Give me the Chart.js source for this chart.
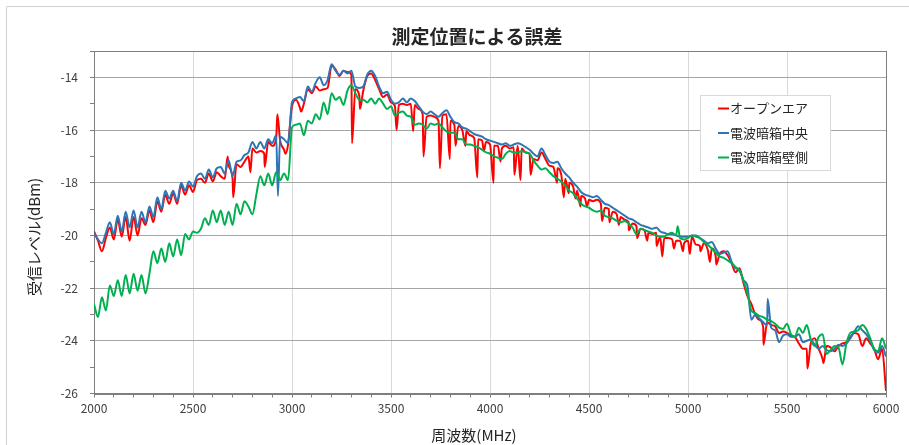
<!DOCTYPE html>
<html lang="ja">
<head>
<meta charset="utf-8">
<title>測定位置による誤差</title>
<script src="https://cdn.jsdelivr.net/npm/chart.js@4.4.1/dist/chart.umd.min.js"></script>
<style>
  html, body { margin: 0; padding: 0; background: #fff; }
  #wrap { width: 909px; height: 445px; position: relative; }
</style>
</head>
<body>
<div id="wrap"><canvas id="chart" width="909" height="445"></canvas></div>
<script>
// 周波数 2000〜6000 MHz, 20 MHz 刻み
const freqStart = 2000;
const freqStep = 20;

const seriesLabels = ["オープンエア", "電波暗箱中央", "電波暗箱壁側"];
const seriesColors = ["#ff0000", "#2e75b6", "#00b050"];

// オープンエア
const openAir = [
  -19.85, -20.2, -20.6, -20.1, -19.7, -20.15, -19.4, -20.05, -19.3, -20.2,
  -19.3, -20.0, -19.35, -19.6, -19.05, -19.5, -18.7, -19.1, -18.45, -18.8,
  -18.4, -18.8, -18.1, -18.45, -18.1, -18.35, -17.9, -17.85, -18.0, -17.65,
  -17.95, -17.6, -17.75, -17.85, -17.35, -17.85, -17.3, -17.4, -17.2, -17.0,
  -16.7, -16.85, -16.8, -16.9, -16.45, -16.6, -16.35, -16.4, -16.75, -16.55,
  -15.1, -14.85, -15.15, -15.0, -14.45, -14.6, -14.35, -14.5, -14.45, -14.4,
  -13.55, -13.7, -13.95, -13.75, -13.8, -13.9, -14.45, -14.7, -14.5, -13.95,
  -13.85, -14.1, -14.45, -14.75, -14.65, -14.95, -15.1, -15.05, -15.0, -15.05,
  -15.0, -15.05, -15.2, -15.4, -15.5, -15.45, -15.5, -15.65, -15.45, -15.4,
  -15.65, -15.8, -15.85, -16.0, -16.05, -16.2, -16.3, -16.35, -16.4, -16.45,
  -16.55, -16.6, -16.6, -16.7, -16.6, -16.7, -16.65, -16.6, -16.7, -16.85,
  -16.9, -17.1, -17.15, -16.85, -17.1, -17.35, -17.4, -17.45, -17.7, -17.85,
  -18.0, -18.15, -18.3, -18.5, -18.6, -18.65, -18.7, -18.65, -18.8, -18.95,
  -19.0, -19.1, -19.2, -19.3, -19.4, -19.5, -19.55, -19.65, -19.75, -19.8,
  -19.9, -19.95, -19.9, -20.05, -20.1, -20.1, -20.15, -20.2, -20.2, -20.3,
  -20.2, -20.05, -20.35, -20.4, -20.3, -20.55, -20.5, -20.8, -20.7, -20.6,
  -20.75, -21.05, -21.4, -21.25, -21.8, -22.3, -22.6, -23.0, -23.2, -23.5,
  -23.3, -23.4, -23.45, -23.7, -23.65, -23.7, -23.8, -23.85, -24.1, -24.3,
  -24.3, -24.1, -23.9, -24.3, -24.7, -24.2, -24.25, -24.4, -24.2, -24.1,
  -24.05, -23.85, -23.7, -23.75, -24.2, -23.9, -24.1, -24.3, -24.7, -24.3,
  -25.9
];

// 電波暗箱中央
const boxCenter = [
  -19.9, -20.15, -20.3, -19.9, -19.5, -19.95, -19.25, -19.85, -19.1, -19.7,
  -19.05, -19.7, -19.1, -19.5, -18.9, -19.3, -18.55, -19.0, -18.3, -18.6,
  -18.3, -18.7, -18.0, -18.3, -17.95, -18.15, -17.75, -17.65, -17.85, -17.5,
  -17.8, -17.45, -17.4, -17.65, -17.15, -17.75, -17.2, -17.15, -16.95, -16.85,
  -16.45, -16.7, -16.45, -16.7, -16.35, -16.5, -16.2, -16.25, -16.35, -16.5,
  -14.95, -14.8, -14.75, -14.9, -14.35, -14.55, -14.2, -14.0, -14.3, -14.1,
  -13.5, -13.75, -13.9, -13.75, -13.85, -13.75, -14.35, -14.4, -14.35, -13.9,
  -13.75, -13.95, -14.35, -14.6, -14.55, -14.85, -15.0, -14.95, -14.8, -14.95,
  -14.8, -14.9, -15.1, -15.3, -15.4, -15.3, -15.4, -15.5, -15.35, -15.25,
  -15.5, -15.7, -15.75, -15.9, -15.95, -16.05, -16.15, -16.2, -16.25, -16.35,
  -16.4, -16.45, -16.5, -16.55, -16.5, -16.6, -16.55, -16.5, -16.55, -16.65,
  -16.75, -16.9, -17.0, -16.7, -16.95, -17.2, -17.25, -17.2, -17.45, -17.65,
  -17.8, -18.0, -18.15, -18.35, -18.45, -18.5, -18.55, -18.5, -18.65, -18.8,
  -18.85, -18.95, -19.05, -19.15, -19.25, -19.35, -19.4, -19.5, -19.6, -19.65,
  -19.7, -19.75, -19.7, -19.85, -19.9, -19.95, -19.95, -20.0, -20.05, -20.05,
  -20.05, -20.0, -20.0, -20.1, -20.2, -20.3, -20.25, -20.5, -20.7, -20.65,
  -20.6, -21.0, -21.25, -21.3, -21.7, -21.9, -23.2, -23.0, -23.15, -23.3,
  -23.4, -23.5, -23.6, -24.05, -23.8, -23.75, -23.85, -23.85, -23.75, -24.05,
  -24.0, -23.95, -24.15, -24.3, -24.2, -24.35, -24.4, -24.3, -24.15, -24.2,
  -24.1, -23.9, -23.65, -23.45, -23.6, -23.75, -24.0, -24.35, -24.45, -24.2,
  -24.6
];

// 電波暗箱壁側
const boxWall = [
  -22.6, -23.1, -22.35, -22.85, -21.9, -22.3, -21.7, -22.3, -21.5, -22.2,
  -21.45, -22.1, -21.5, -22.2, -21.45, -20.6, -21.05, -20.5, -21.0, -20.3,
  -20.8, -20.15, -20.75, -19.95, -20.15, -19.85, -19.9, -19.75, -19.35, -19.6,
  -19.05, -19.5, -19.05, -19.6, -19.1, -19.6, -18.8, -19.2, -18.7, -18.9,
  -19.2, -18.45, -17.75, -18.1, -17.65, -18.1, -17.6, -17.9, -17.65, -17.9,
  -15.9, -15.8, -15.75, -16.2, -15.65, -15.75, -15.4, -15.6, -14.95, -15.4,
  -14.6, -14.85, -14.75, -15.05, -14.5, -14.3, -14.6, -14.85, -14.85, -14.95,
  -14.8, -15.0, -14.8, -15.0, -15.2, -15.1, -15.45, -15.35, -15.3, -15.45,
  -15.5, -15.8, -15.75, -15.8, -15.95, -15.75, -15.8, -15.75, -15.9, -16.05,
  -16.1, -16.1, -16.35, -16.35, -16.55, -16.55, -16.6, -16.65, -16.75, -16.85,
  -16.9, -17.0, -17.05, -17.1, -16.9, -16.8, -16.85, -16.85, -16.8, -16.85,
  -16.9, -17.15, -17.35, -17.5, -17.45, -17.6, -17.75, -17.85, -17.95, -18.1,
  -18.3, -18.4, -18.6, -18.8, -18.9, -18.95, -19.05, -19.1, -19.05, -19.25,
  -19.3, -19.35, -19.45, -19.5, -19.45, -19.55, -19.7, -19.95, -19.75, -19.8,
  -19.85, -19.9, -20.0, -20.05, -20.05, -19.95, -19.9, -20.0, -20.1, -20.15,
  -20.1, -20.0, -20.05, -20.1, -20.25, -20.35, -20.5, -20.65, -20.8, -20.85,
  -20.95, -21.05, -21.2, -21.35, -21.7, -22.2, -22.85, -22.95, -23.05, -23.1,
  -23.2, -23.25, -23.35, -23.5, -23.55, -23.35, -23.75, -23.85, -23.5, -23.7,
  -23.4, -23.95, -24.2, -23.85, -23.75, -24.5, -24.35, -24.2, -24.25, -24.9,
  -24.1, -23.7, -23.65, -23.6, -23.4, -23.55, -23.9, -24.3, -24.4, -23.9,
  -24.3
];

// 単発のスパイク [周波数, レベル]
const openAirSpikes = [
  [2675, -17.0], [2703, -18.55], [2790, -17.6], [2862, -17.4], [2926, -15.4],
  [2967, -16.9], [3046, -15.3], [3303, -16.5], [3343, -15.2], [3528, -16.0],
  [3612, -16.05], [3664, -17.0], [3747, -17.45], [3797, -17.1], [3826, -16.6],
  [3876, -16.6], [3936, -17.8], [3969, -16.8], [4018, -18.0], [4053, -17.2],
  [4123, -17.7], [4154, -17.9], [4205, -17.7], [4339, -18.0], [4373, -18.55],
  [4398, -18.4], [4432, -18.6], [4457, -18.9], [4490, -18.9], [4566, -19.45],
  [4603, -19.5], [4651, -19.6], [4701, -19.8], [4743, -20.1], [4794, -20.2],
  [4841, -20.4], [4870, -20.8], [4929, -20.5], [4975, -20.6], [5009, -20.7],
  [5063, -20.6], [5111, -21.0], [5143, -21.1], [5381, -24.15], [5603, -25.05],
  [5684, -24.85]
];
const boxCenterSpikes = [[2929, -18.5], [5402, -22.4]];
const boxWallSpikes = [[4948, -19.65]];

// x軸: 500 MHz ごとにラベル, y軸: 2 dB ごとにラベル
const xTickLabels = ["2000", "2500", "3000", "3500", "4000", "4500", "5000", "5500", "6000"];
const yTickLabels = ["-14", "-16", "-18", "-20", "-22", "-24", "-26"];

function toPoints(values, spikes) {
  const pts = values.map((v, i) => ({ x: freqStart + i * freqStep, y: v }));
  spikes.forEach(([f, v]) => pts.push({ x: f, y: v }));
  return pts.sort((a, b) => a.x - b.x);
}

const FONT = "'Noto Sans CJK JP', 'Noto Sans', sans-serif";

const decor = {
  id: "decor",
  beforeDraw(chart) {
    const { ctx } = chart;
    ctx.save();
    ctx.fillStyle = "#fff";
    ctx.fillRect(0, 0, chart.width, chart.height);
    // 外枠
    ctx.strokeStyle = "#d0d0d0";
    ctx.lineWidth = 1;
    ctx.beginPath();
    ctx.moveTo(6.5, chart.height);
    ctx.lineTo(6.5, 6.5);
    ctx.lineTo(chart.width, 6.5);
    ctx.stroke();
    ctx.restore();
  },
  beforeDatasetsDraw(chart) {
    const { ctx, chartArea: a } = chart;
    ctx.save();
    ctx.strokeStyle = "#7f7f7f";
    ctx.lineWidth = 1;
    ctx.strokeRect(Math.round(a.left) + 0.5, Math.round(a.top) + 0.5,
      Math.round(a.right - a.left), Math.round(a.bottom - a.top));
    ctx.restore();
  },
  afterDraw(chart) {
    const { ctx } = chart;
    ctx.save();
    ctx.fillStyle = "#262626";
    ctx.textAlign = "center";
    ctx.textBaseline = "middle";
    // タイトル
    ctx.font = "bold 19px " + FONT;
    ctx.fillText("測定位置による誤差", 477, 37);
    // x軸タイトル
    ctx.font = "15px " + FONT;
    ctx.fillText("周波数(MHz)", 474, 435);
    // y軸タイトル
    ctx.translate(34, 237);
    ctx.rotate(-Math.PI / 2);
    ctx.fillText("受信レベル(dBm)", 0, 0);
    ctx.restore();

    // 凡例
    ctx.save();
    ctx.fillStyle = "#fff";
    ctx.fillRect(700, 95, 130, 75);
    ctx.strokeStyle = "#d9d9d9";
    ctx.lineWidth = 1;
    ctx.strokeRect(700.5, 95.5, 130, 75);
    ctx.font = "13px " + FONT;
    ctx.textAlign = "left";
    ctx.textBaseline = "middle";
    chart.data.datasets.forEach((ds, i) => {
      const y = 108.5 + i * 24.5;
      ctx.strokeStyle = ds.borderColor;
      ctx.lineWidth = 2;
      ctx.beginPath();
      ctx.moveTo(718, y);
      ctx.lineTo(729, y);
      ctx.stroke();
      ctx.fillStyle = "#262626";
      ctx.fillText(ds.label, 730, y);
    });
    ctx.restore();
  }
};

const datasets = [
  { values: openAir, spikes: openAirSpikes },
  { values: boxCenter, spikes: boxCenterSpikes },
  { values: boxWall, spikes: boxWallSpikes }
].map((s, i) => ({
  label: seriesLabels[i],
  data: toPoints(s.values, s.spikes),
  borderColor: seriesColors[i],
  backgroundColor: seriesColors[i],
  borderWidth: 2,
  pointRadius: 0,
  cubicInterpolationMode: "monotone", // Excelの滑らかな波形に寄せる
  order: 3 - i // 後の系列を上に描く
}));

new Chart(document.getElementById("chart").getContext("2d"), {
  type: "line",
  data: { datasets },
  plugins: [decor],
  options: {
    responsive: false,
    animation: false,
    devicePixelRatio: 1,
    layout: { padding: { left: 0, right: 23, top: 51, bottom: 0 } },
    plugins: {
      legend: { display: false },
      title: { display: false },
      tooltip: { enabled: false }
    },
    scales: {
      x: {
        type: "linear",
        min: 2000,
        max: 6000,
        afterFit: (scale) => { scale.height = 51.5; },
        ticks: {
          stepSize: 100,
          autoSkip: false,
          maxRotation: 0,
          padding: 4,
          color: "#404040",
          font: { family: FONT, size: 12 },
          callback: (v) => (xTickLabels.includes(String(v)) ? String(v) : "")
        },
        grid: {
          color: (c) => (c.tick && c.tick.value % 500 === 0 && c.tick.value > 2000 && c.tick.value < 6000 ? "#d9d9d9" : "rgba(0,0,0,0)"),
          tickColor: "#7f7f7f",
          tickLength: 4
        },
        border: { color: "#7f7f7f" }
      },
      y: {
        min: -26,
        max: -13,
        afterFit: (scale) => { scale.width = 94; },
        ticks: {
          stepSize: 1,
          autoSkip: false,
          padding: 12,
          color: "#404040",
          font: { family: FONT, size: 12 },
          callback: (v) => (yTickLabels.includes(String(v)) ? String(v) : "")
        },
        grid: {
          color: (c) => (c.tick && yTickLabels.includes(String(c.tick.value)) && c.tick.value > -26 ? "#a6a6a6" : "rgba(0,0,0,0)"),
          tickColor: "#7f7f7f",
          tickLength: 4
        },
        border: { color: "#7f7f7f" }
      }
    }
  }
});
</script>
</body>
</html>
